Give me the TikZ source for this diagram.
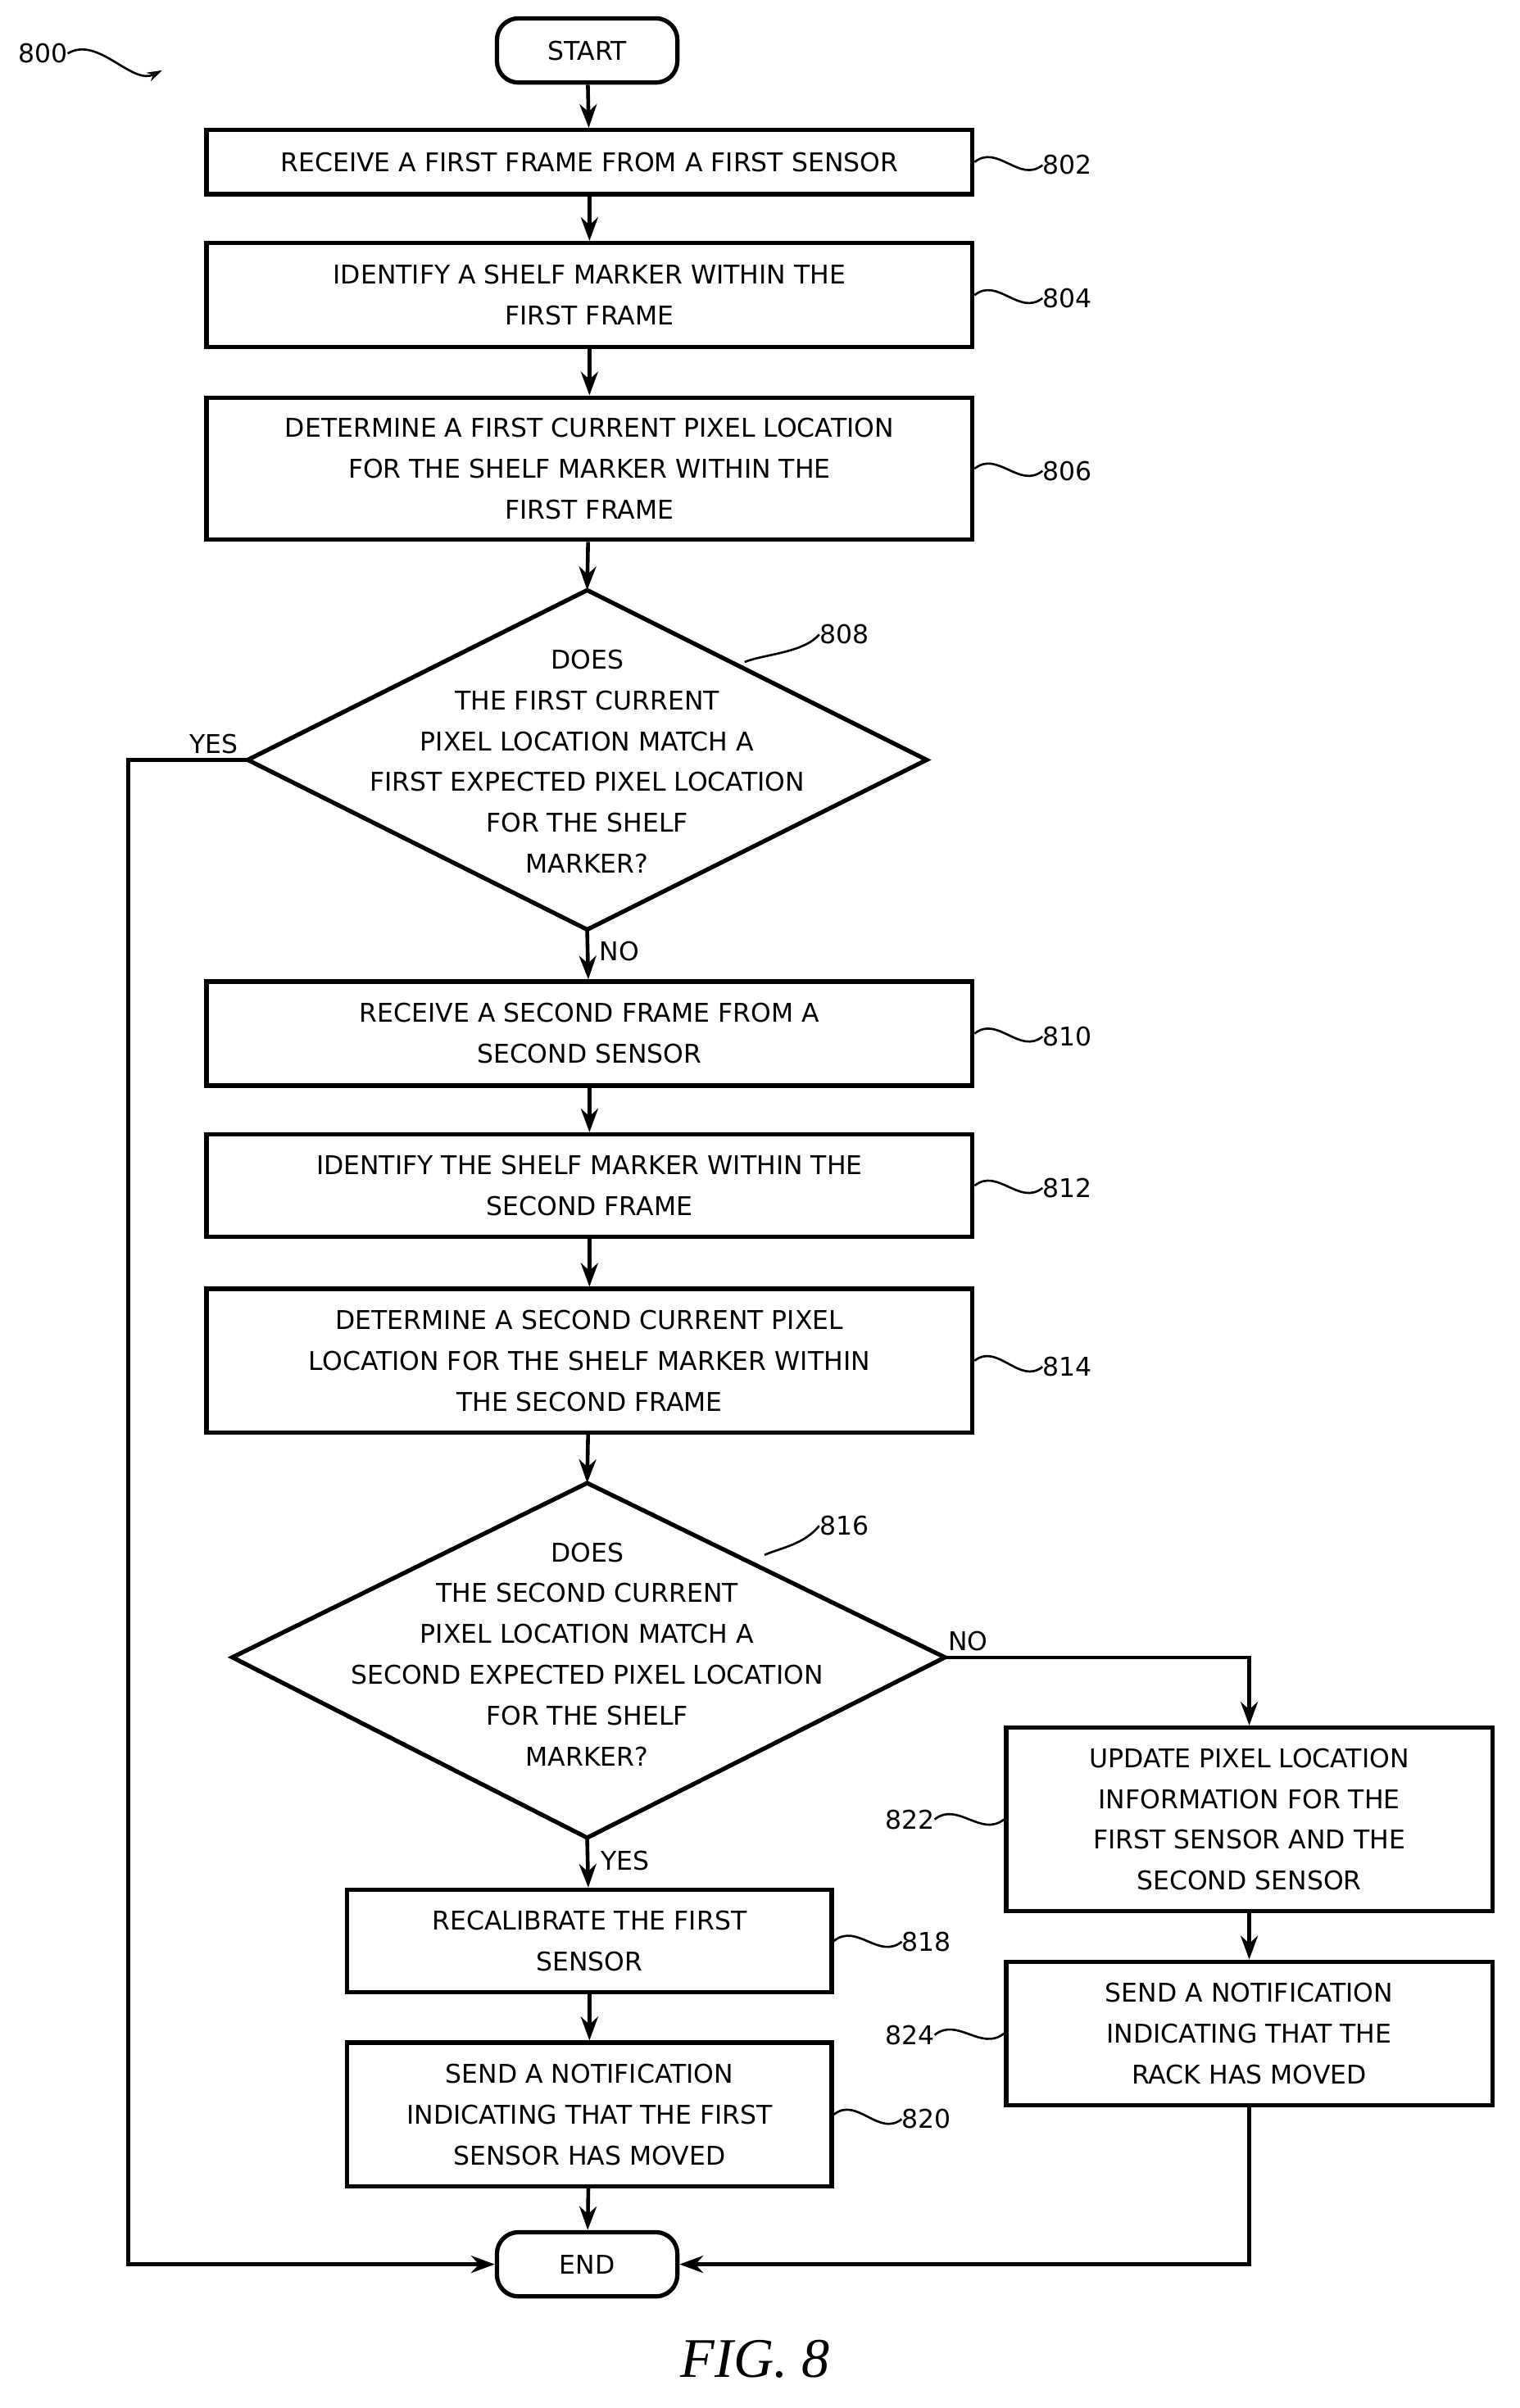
\documentclass[tikz,border=0pt]{standalone}
\usepackage{fontspec}
\setmainfont{DejaVu Sans}
\newfontfamily\figfont{Liberation Serif}
\usetikzlibrary{arrows.meta,shapes.geometric}
\begin{document}
\begin{tikzpicture}[x=0.05cm,y=-0.05cm,
  every node/.style={font=\fontsize{24}{38}\selectfont, align=center, inner sep=0pt},
  box/.style={draw, line width=4pt, rectangle},
  term/.style={draw, line width=4pt, rounded corners=20pt, minimum width=5.9cm, minimum height=2.1cm},
  dia/.style={draw, line width=4pt, diamond, aspect=2},
  arr/.style={line width=3.5pt, -{Stealth[length=22pt,width=16pt]}},
  ln/.style={line width=3.5pt},
  sq/.style={line width=2pt},
  lab/.style={font=\fontsize{24}{30}\selectfont}]
\useasboundingbox (0,0) rectangle (994,1575);
\node[term] (start) at (384,33) {START};
\node[box, minimum width=25.05cm, minimum height=2.1cm] (b802) at (385.5,106) {RECEIVE A FIRST FRAME FROM A FIRST SENSOR};
\node[box, minimum width=25.05cm, minimum height=3.4cm] (b804) at (385.5,193) {IDENTIFY A SHELF MARKER WITHIN THE\\FIRST FRAME};
\node[box, minimum width=25.05cm, minimum height=4.65cm] (b806) at (385.5,306.5) {DETERMINE A FIRST CURRENT PIXEL LOCATION\\FOR THE SHELF MARKER WITHIN THE\\FIRST FRAME};
\draw[line width=4pt] (384,386) coordinate (d8t) -- (606,497) coordinate (d8r) -- (384,608) coordinate (d8b) -- (162,497) coordinate (d8l) -- cycle;
\node (d808) at (384,498) {DOES\\THE FIRST CURRENT\\PIXEL LOCATION MATCH A\\FIRST EXPECTED PIXEL LOCATION\\FOR THE SHELF\\MARKER?};
\node[box, minimum width=25.05cm, minimum height=3.4cm] (b810) at (385.5,676) {RECEIVE A SECOND FRAME FROM A\\SECOND SENSOR};
\node[box, minimum width=25.05cm, minimum height=3.35cm] (b812) at (385.5,775.5) {IDENTIFY THE SHELF MARKER WITHIN THE\\SECOND FRAME};
\node[box, minimum width=25.05cm, minimum height=4.7cm] (b814) at (385.5,890) {DETERMINE A SECOND CURRENT PIXEL\\LOCATION FOR THE SHELF MARKER WITHIN\\THE SECOND FRAME};
\draw[line width=4pt] (384,970) coordinate (d16t) -- (618,1084) coordinate (d16r) -- (384,1202) coordinate (d16b) -- (152,1084) coordinate (d16l) -- cycle;
\node (d816) at (384,1082) {DOES\\THE SECOND CURRENT\\PIXEL LOCATION MATCH A\\SECOND EXPECTED PIXEL LOCATION\\FOR THE SHELF\\MARKER?};
\node[box, minimum width=15.85cm, minimum height=3.35cm] (b818) at (385.5,1269.5) {RECALIBRATE THE FIRST\\SENSOR};
\node[box, minimum width=15.85cm, minimum height=4.7cm] (b820) at (385.5,1383) {SEND A NOTIFICATION\\INDICATING THAT THE FIRST\\SENSOR HAS MOVED};
\node[box, minimum width=15.9cm, minimum height=6cm] (b822) at (817,1190) {UPDATE PIXEL LOCATION\\INFORMATION FOR THE\\FIRST SENSOR AND THE\\SECOND SENSOR};
\node[box, minimum width=15.9cm, minimum height=4.7cm] (b824) at (817,1330) {SEND A NOTIFICATION\\INDICATING THAT THE\\RACK HAS MOVED};
\node[term] (end) at (384,1481) {END};
% arrows
\draw[arr] (start) -- (b802);
\draw[arr] (b802) -- (b804);
\draw[arr] (b804) -- (b806);
\draw[arr] (b806) -- (d8t);
\draw[arr] (d8b) -- (b810);
\draw[arr] (b810) -- (b812);
\draw[arr] (b812) -- (b814);
\draw[arr] (b814) -- (d16t);
\draw[arr] (d16b) -- (b818);
\draw[arr] (b818) -- (b820);
\draw[arr] (b820) -- (end);
\draw[arr] (d8l) -- (84,497) -- (84,1481) -- (end.west);
\draw[arr] (d16r) -- (817,1084) -- (b822.north);
\draw[arr] (b822) -- (b824);
\draw[arr] (b824.south) -- (817,1481) -- (end.east);
\node[lab, anchor=south west] (yes1) at (124,493) {YES};
\node[lab, anchor=west] (no1) at (392,622) {NO};
\node[lab, anchor=south west] (no2) at (620,1080) {NO};
\node[lab, anchor=west] (yes2) at (393,1217) {YES};
% ref labels
\node[lab] (l802) at (698,108) {802};
\node[lab] (l804) at (698,195) {804};
\node[lab] (l806) at (698,308) {806};
\node[lab] (l808) at (552,415) {808};
\node[lab] (l810) at (698,678) {810};
\node[lab] (l812) at (698,777) {812};
\node[lab] (l814) at (698,894) {814};
\node[lab] (l816) at (552,998) {816};
\node[lab] (l818) at (606,1270) {818};
\node[lab] (l820) at (606,1386) {820};
\node[lab] (l822) at (595,1190) {822};
\node[lab] (l824) at (595,1331) {824};
\node[lab] (l800) at (28,35) {800};
\tikzset{squig/.style={sq, out=0, in=180, looseness=1}}
\draw[sq] (b802.east) .. controls +(15,-12) and +(-15,12) .. (l802.west);
\draw[sq] (b804.east) .. controls +(15,-12) and +(-15,12) .. (l804.west);
\draw[sq] (b806.east) .. controls +(15,-12) and +(-15,12) .. (l806.west);
\draw[sq] (b810.east) .. controls +(15,-12) and +(-15,12) .. (l810.west);
\draw[sq] (b812.east) .. controls +(15,-12) and +(-15,12) .. (l812.west);
\draw[sq] (b814.east) .. controls +(15,-12) and +(-15,12) .. (l814.west);
\draw[sq] (b818.east) .. controls +(15,-12) and +(-15,12) .. (l818.west);
\draw[sq] (b820.east) .. controls +(15,-12) and +(-15,12) .. (l820.west);
\draw[sq] (l822.east) .. controls +(15,-12) and +(-15,12) .. (b822.west);
\draw[sq] (l824.east) .. controls +(15,-12) and +(-15,12) .. (b824.west);
\coordinate (c808) at (487,433);
\coordinate (c816) at (500,1017);
\draw[sq] (c808) .. controls +(12,-5) and +(-10,12) .. (l808.west);
\draw[sq] (c816) .. controls +(12,-5) and +(-10,12) .. (l816.west);
\coordinate (a800) at (106,46);
\draw[sq, -{Stealth[length=14pt,width=9pt]}] (l800.east) .. controls +(20,-12) and +(-20,10) .. (a800);
\node[font=\figfont\itshape\fontsize{52}{60}\selectfont] (fig) at (494,1543) {FIG. 8};
\end{tikzpicture}
\end{document}
